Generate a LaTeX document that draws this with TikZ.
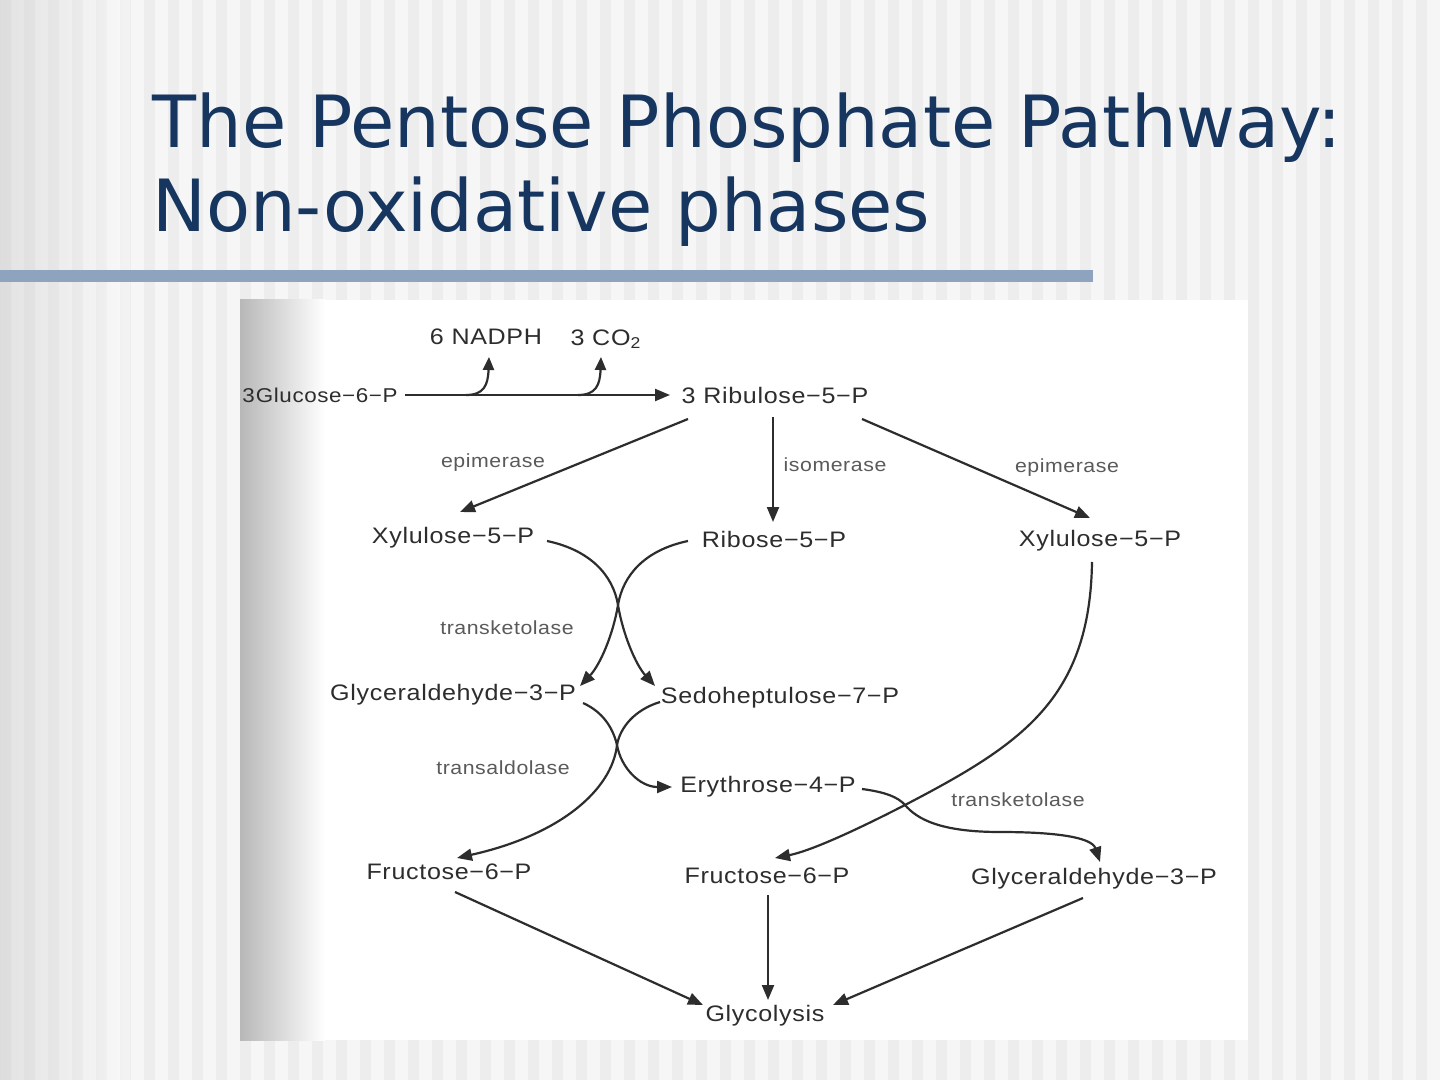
\documentclass[tikz,border=0pt]{standalone}
\usepackage{fontspec}
\newfontfamily\titlefont{DejaVu Sans}
\newfontfamily\chemfont[FakeStretch=1.12,LetterSpace=3]{Liberation Sans}
\usetikzlibrary{arrows.meta}
\definecolor{slidebg}{RGB}{246,246,246}
\definecolor{stripe}{RGB}{237,237,237}
\definecolor{titleblue}{RGB}{22,54,96}
\definecolor{rulebar}{RGB}{141,163,190}
\definecolor{ink}{RGB}{45,45,45}
\definecolor{enzgray}{RGB}{90,90,90}

\begin{document}
\begin{tikzpicture}[x=0.5pt, y=-0.5pt,
    chem/.style={font=\chemfont\fontsize{11.2}{13}\selectfont, text=ink, inner sep=1pt},
    enz/.style={font=\chemfont\fontsize{9.5}{11}\selectfont, text=enzgray, inner sep=1pt},
    heading/.style={font=\titlefont\fontsize{36}{42}\selectfont, text=titleblue, inner sep=0pt, anchor=base west},
    arr/.style={draw=ink, line width=1.1pt, -{Triangle[length=7.5pt,width=6pt]}},
    twig/.style={draw=ink, line width=1.1pt, -{Triangle[length=6.5pt,width=5.5pt]}}]
  \useasboundingbox (0,0) rectangle (1440,1080);

  % slide background
  \fill[slidebg] (0,0) rectangle (1440,1080);
  \foreach \x in {0,24,...,1440}
    \fill[stripe] (\x,0) rectangle ++(11,1080);
  \shade[left color=black!25, right color=white, opacity=0.35] (0,0) rectangle (130,1080);
  \fill[rulebar] (0,270) rectangle (1093,282);
  \node[heading] (title1) at (152,148) {The Pentose Phosphate Pathway:};
  \node[heading] (title2) at (152,232) {Non-oxidative phases};

  % scanned figure
  \fill[white] (240,300) rectangle (1248,1040);
  \shade[left color=black!28, right color=white] (240,300) rectangle (325,1040);
  \begin{scope}
    \clip (240,300) rectangle (1248,1040);
    \node[chem, anchor=east, font=\chemfont\fontsize{10}{12}\selectfont] (glc) at (400,395) {3\kern0.5pt Glucose−6−P};
  \end{scope}

  \node[chem] (nadph) at (486,337) {6 NADPH};
  \node[chem] (co2) at (606,339) {3 CO\textsubscript{2}};
  \node[chem] (rib) at (775,395) {3 Ribulose−5−P};

  \node[chem] (xyl1) at (453,538) {Xylulose−5−P};
  \node[chem] (r5p) at (774,539) {Ribose−5−P};
  \node[chem] (xyl2) at (1100,541) {Xylulose−5−P};
  \node[chem] (gap1) at (453,695) {Glyceraldehyde−3−P};
  \node[chem] (s7p) at (780,698) {Sedoheptulose−7−P};
  \node[chem] (e4p) at (768,787) {Erythrose−4−P};
  \node[chem] (f6p1) at (449,872) {Fructose−6−P};
  \node[chem] (f6p2) at (767,876) {Fructose−6−P};
  \node[chem] (gap2) at (1094,879) {Glyceraldehyde−3−P};
  \node[chem] (glyc) at (765,1016) {Glycolysis};

  % enzymes
  \node[enz] (epi1) at (493,463) {epimerase};
  \node[enz] (iso) at (835,465) {isomerase};
  \node[enz] (epi2) at (1067,468) {epimerase};
  \node[enz] (tk1) at (507,628) {transketolase};
  \node[enz] (ta) at (503,768) {transaldolase};
  \node[enz] (tk2) at (1018,800) {transketolase};

  % oxidative step
  \coordinate (nadphfork) at (466,395);
  \coordinate (cofork) at (578,395);
  \draw[arr] ([shift={(5,0)}]glc.east) -- ([shift={(-105,0)}]rib.center);
  \draw[twig] (nadphfork) .. controls (484,395) and (488,385) .. ([shift={(3,20)}]nadph.center);
  \draw[twig] (cofork) .. controls (596,395) and (600,385) .. ([shift={(-5,18)}]co2.center);

  % ribulose split
  \draw[arr] ([shift={(-87,24)}]rib.center) -- ([shift={(7,-26)}]xyl1.center);
  \draw[arr] ([shift={(-2,22)}]rib.center) -- ([shift={(-1,-17)}]r5p.center);
  \draw[arr] ([shift={(87,24)}]rib.center) -- ([shift={(-10,-23)}]xyl2.center);

  % transketolase and transaldolase
  \coordinate (tkx) at (618,605);
  \coordinate (tax) at (617,745);
  \draw[arr] ([shift={(94,3)}]xyl1.center) .. controls (590,550) and (613,575) .. (tkx)
    .. controls (623,635) and (636,665) .. ([shift={(-125,-12)}]s7p.center);
  \draw[arr] ([shift={(-86,2)}]r5p.center) .. controls (645,550) and (623,575) .. (tkx)
    .. controls (613,635) and (600,665) .. ([shift={(127,-9)}]gap1.center);
  \draw[arr] ([shift={(130,8)}]gap1.center) .. controls (603,712) and (613,728) .. (tax)
    .. controls (621,768) and (640,787) .. ([shift={(-96,0)}]e4p.center);
  \draw[arr] ([shift={(-120,4)}]s7p.center) .. controls (634,710) and (620,728) .. (tax)
    .. controls (612,790) and (560,835) .. ([shift={(8,-14)}]f6p1.center);

  \coordinate (kiss) at (905,805);
  \draw[arr] ([shift={(-8,21)}]xyl2.center) .. controls (1090,700) and (1020,745) .. (kiss)
    .. controls (870,823) and (815,850) .. ([shift={(8,-18)}]f6p2.center);
  \draw[arr] ([shift={(94,2)}]e4p.center) .. controls (885,792) and (898,797) .. (kiss)
    .. controls (917,819) and (940,832) .. (1000,832)
    .. controls (1060,832) and (1092,838) .. ([shift={(6,-17)}]gap2.center);

  % to glycolysis
  \draw[arr] ([shift={(6,20)}]f6p1.center) -- ([shift={(-62,-11)}]glyc.center);
  \draw[arr] ([shift={(1,19)}]f6p2.center) -- ([shift={(3,-16)}]glyc.center);
  \draw[arr] ([shift={(-11,19)}]gap2.center) -- ([shift={(68,-11)}]glyc.center);
\end{tikzpicture}
\end{document}
